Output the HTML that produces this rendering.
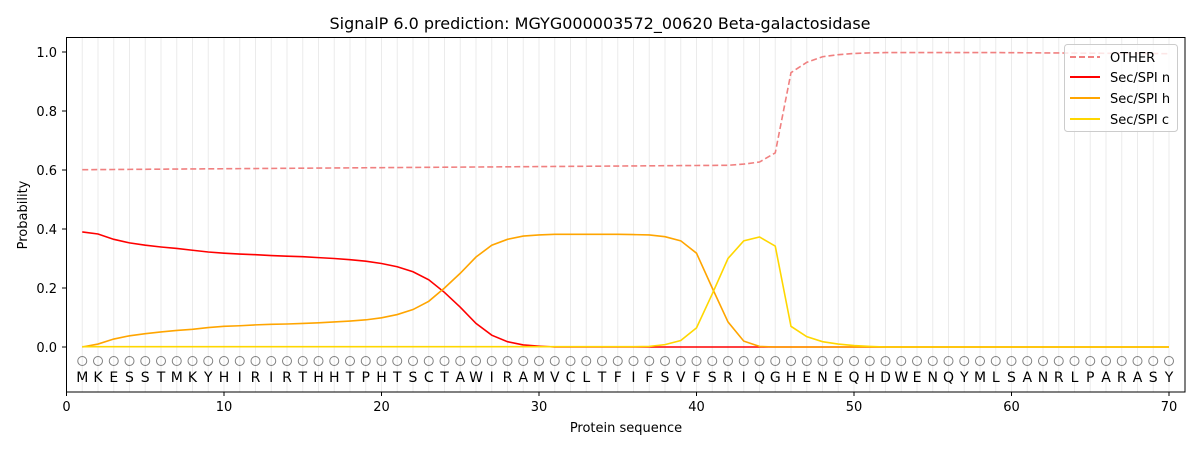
<!DOCTYPE html>
<html><head><meta charset="utf-8"><style>
body{margin:0;background:#fff;}
svg{display:block;font-family:"DejaVu Sans","Liberation Sans",sans-serif;}
</style></head><body>
<svg id="s" width="1200" height="450" viewBox="0 0 1200 450">
<rect width="1200" height="450" fill="#fff"/>
<g id="grid"></g>
<g id="series"></g>
<rect x="66.5" y="37.5" width="1118.5" height="354.5" fill="none" stroke="#000" stroke-width="1"/>
<g id="ticks" stroke="#000"></g>
<text id="seq" y="382" font-size="14" text-anchor="middle" fill="#000">MKESSTMKYHIRIRTHHTPHTSCTAWIRAMVCLTFIFSVFSRIQGHENEQHDWENQYMLSANRLPARASY</text>
<g font-size="13" fill="#000" text-anchor="middle">
<text x="66.5" y="411">0</text><text x="224" y="411">10</text><text x="381.5" y="411">20</text><text x="539" y="411">30</text><text x="696.5" y="411">40</text><text x="854" y="411">50</text><text x="1011.5" y="411">60</text><text x="1169" y="411">70</text>
<text x="626" y="432">Protein sequence</text>
<text x="600" y="29" font-size="16">SignalP 6.0 prediction: MGYG000003572_00620 Beta-galactosidase</text>
</g>
<g font-size="13" fill="#000" text-anchor="end">
<text x="57" y="352">0.0</text><text x="57" y="293">0.2</text><text x="57" y="234">0.4</text><text x="57" y="175">0.6</text><text x="57" y="116">0.8</text><text x="57" y="57">1.0</text>
</g>
<text transform="translate(27,215) rotate(-90)" font-size="13" text-anchor="middle">Probability</text>
<g>
<rect x="1064.5" y="44.5" width="113" height="87" rx="3" fill="#fff" fill-opacity="0.8" stroke="#ccc"/>
<line x1="1070" y1="57" x2="1100" y2="57" stroke="#f08080" stroke-width="2" stroke-dasharray="6,3"/>
<line x1="1070" y1="77" x2="1100" y2="77" stroke="#ff0000" stroke-width="2"/>
<line x1="1070" y1="98" x2="1100" y2="98" stroke="#ffa500" stroke-width="2"/>
<line x1="1070" y1="119" x2="1100" y2="119" stroke="#ffd700" stroke-width="2"/>
<g font-size="13"><text x="1110" y="62">OTHER</text><text x="1110" y="82">Sec/SPI n</text><text x="1110" y="103">Sec/SPI h</text><text x="1110" y="124">Sec/SPI c</text></g>
</g>
</svg>
<script>
const X=i=>66.5+15.75*i, Y=v=>347-295*v;
const ns="http://www.w3.org/2000/svg";
function el(p,t,a){const e=document.createElementNS(ns,t);for(const k in a)e.setAttribute(k,a[k]);p.appendChild(e);return e;}
const grid=document.getElementById('grid'),ticks=document.getElementById('ticks'),ser=document.getElementById('series');
let xs=[];
for(let i=1;i<=70;i++){el(grid,'line',{x1:X(i),x2:X(i),y1:38,y2:392,stroke:'#ebebeb','stroke-width':1});xs.push(X(i));
 el(grid,'circle',{cx:X(i),cy:361,r:4.5,fill:'none',stroke:'#808080','stroke-width':1});}
document.getElementById('seq').setAttribute('x',xs.join(' '));
for(let i=0;i<=70;i+=10)el(ticks,'line',{x1:X(i),x2:X(i),y1:392,y2:396});
for(let k=0;k<=5;k++)el(ticks,'line',{x1:62,x2:66.5,y1:Y(k*0.2),y2:Y(k*0.2)});
const other=[];for(let i=1;i<=42;i++)other.push(0.601+0.015*(i-1)/41);
other.push(0.62,0.627,0.658,0.93,0.965,0.984,0.991,0.995,0.997);
while(other.length<70)other.push(0.998-0.004*Math.max(0,other.length-58)/12);
const n=[0.39,0.383,0.365,0.353,0.345,0.339,0.334,0.328,0.322,0.318,0.315,0.313,0.31,0.308,0.306,0.303,0.3,0.296,0.291,0.283,0.272,0.255,0.228,0.185,0.135,0.08,0.04,0.018,0.007,0.003];while(n.length<70)n.push(0);
const h=[0,0.01,0.027,0.038,0.045,0.051,0.056,0.06,0.066,0.07,0.072,0.075,0.077,0.078,0.08,0.082,0.085,0.088,0.092,0.099,0.11,0.127,0.155,0.2,0.25,0.305,0.345,0.365,0.376,0.38,0.382,0.382,0.382,0.382,0.382,0.381,0.38,0.374,0.36,0.318,0.2,0.085,0.02,0.002];while(h.length<70)h.push(0);
const c=[];for(let i=1;i<=36;i++)c.push(0.001);c.push(0.002,0.008,0.022,0.065,0.18,0.3,0.36,0.373,0.342,0.07,0.035,0.018,0.01,0.005,0.002);while(c.length<70)c.push(0);
function line(d,col,dash){el(ser,'polyline',{points:d.map((v,i)=>X(i+1)+','+Y(v)).join(' '),fill:'none',stroke:col,'stroke-width':1.6,...(dash?{'stroke-dasharray':'6,3'}:{})});}
line(other,'#f08080',1);line(n,'#ff0000');line(h,'#ffa500');line(c,'#ffd700');
</script>
</body></html>
